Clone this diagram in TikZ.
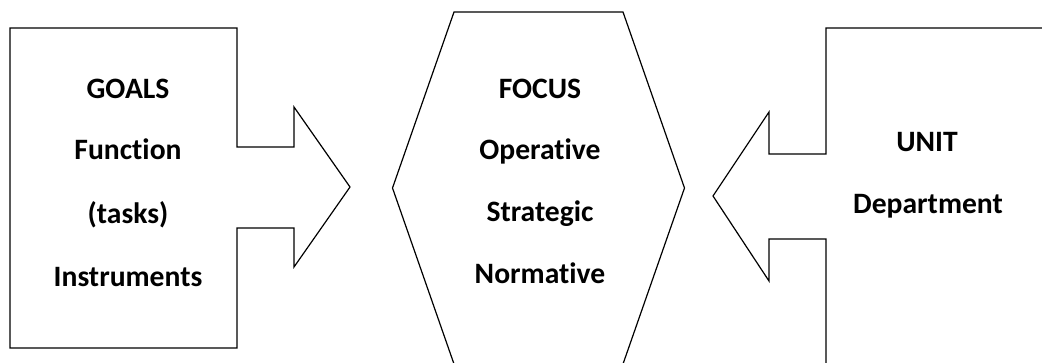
\documentclass[tikz,border=0pt]{standalone}
\usepackage{fontspec}
\setmainfont{Carlito}[Ligatures=NoCommon]
\usepackage{tikz}
\usetikzlibrary{calc}

\begin{document}
\begin{tikzpicture}[x=0.75pt,y=-0.75pt,
outline/.style = {line width=0.9pt, color=black, line join=miter},
boxtext/.style = {anchor=base, font=\bfseries\fontsize{22.2}{26}\selectfont}
]

\clip (0,0) rectangle (1042,362);

% goals: box with arrow to the right
\coordinate (g) at (10,28);
\draw [outline] (g)
  -- ($ (g) + (227,0) $)
  -- ($ (g) + (227,119) $)
  -- ($ (g) + (284,119) $)
  -- ($ (g) + (284,79) $)
  -- ($ (g) + (340,159) $) coordinate (gtip)
  -- ($ (g) + (284,239) $)
  -- ($ (g) + (284,200) $)
  -- ($ (g) + (227,200) $)
  -- ($ (g) + (227,320) $)
  -- ($ (g) + (0,320) $)
  -- cycle;
\node [boxtext] (goals) at (128,98) {GOALS};
\node [boxtext] (function) at (128,159) {Function};
\node [boxtext] (tasks) at (128,223) {(tasks)};
\node [boxtext] (instr) at (128,286) {Instruments};

% focus: hexagon
\coordinate (f) at (538.5,188);
\draw [outline] ($ (f) + (-84.5,-176) $)
  -- ($ (f) + (84.5,-176) $)
  -- ($ (f) + (146,0) $)
  -- ($ (f) + (84.5,176) $)
  -- ($ (f) + (-84.5,176) $)
  -- ($ (f) + (-146,0) $)
  -- cycle;
\node [boxtext] (focus) at (540,98) {FOCUS};
\node [boxtext] (oper) at (540,159) {Operative};
\node [boxtext] (strat) at (540,221) {Strategic};
\node [boxtext] (norm) at (540,283) {Normative};

% unit: box with arrow to the left
\coordinate (u) at (826,28);
\draw [outline] ($ (u) + (230,0) $)
  -- (u)
  -- ($ (u) + (0,126) $)
  -- ($ (u) + (-57,126) $)
  -- ($ (u) + (-57,84) $)
  -- ($ (u) + (-113,168) $) coordinate (utip)
  -- ($ (u) + (-57,253) $)
  -- ($ (u) + (-57,211) $)
  -- ($ (u) + (0,211) $)
  -- ($ (u) + (0,350) $);
\node [boxtext] (unit) at (927,151) {UNIT};
\node [boxtext] (dept) at (928,213) {Department};

\end{tikzpicture}
\end{document}
